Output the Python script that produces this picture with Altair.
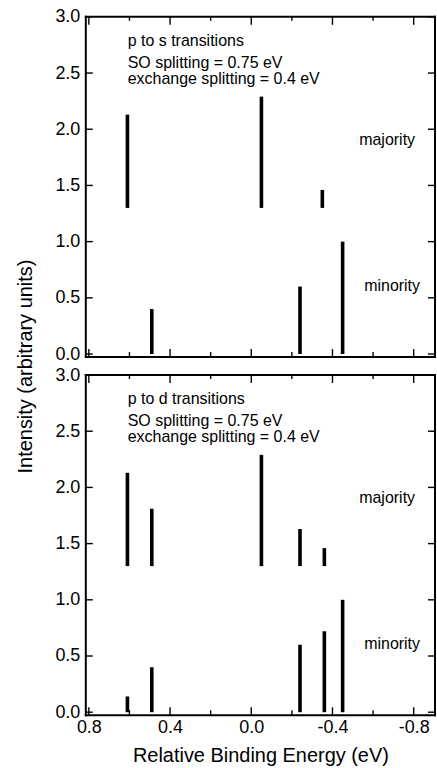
import altair as alt
import pandas as pd

# ---- data ----
ps_maj_energy = [0.61, -0.05, -0.35]
ps_maj_int = [2.13, 2.29, 1.46]
ps_min_energy = [0.49, -0.24, -0.45]
ps_min_int = [0.40, 0.60, 1.00]

pd_maj_energy = [0.61, 0.49, -0.05, -0.24, -0.36]
pd_maj_int = [2.13, 1.81, 2.29, 1.63, 1.46]
pd_min_energy = [0.61, 0.49, -0.24, -0.36, -0.45]
pd_min_int = [0.14, 0.40, 0.60, 0.72, 1.00]

majority_base = 1.3
minority_base = 0.0

y_ticks = [0.0, 0.5, 1.0, 1.5, 2.0, 2.5, 3.0]
x_major = [0.8, 0.4, 0.0, -0.4, -0.8]
x_minor = [0.6, 0.2, -0.2, -0.6]

panel_titles = ["p to s transitions", "p to d transitions"]
info_lines = ["SO splitting = 0.75 eV", "exchange splitting = 0.4 eV"]
spin_labels = ["majority", "minority"]
x_title = "Relative Binding Energy (eV)"
y_title = "Intensity (arbitrary units)"

# ---- layout ----
W, H = 350, 341
FONT = "Liberation Sans"
xs = alt.Scale(domain=[-0.905, 0.815], reverse=True, nice=False, zero=False)
ys = alt.Scale(domain=[-0.027, 3.0], nice=False, zero=False)
LABEL_EXPR = "datum.value < 0 ? '-' + format(-datum.value, '.1f') : format(datum.value, '.1f')"


def panel(maj_e, maj_i, min_e, min_i, title, bottom, top):
    sticks = pd.DataFrame({
        "energy": maj_e + min_e,
        "top": maj_i + min_i,
        "base": [majority_base] * len(maj_e) + [minority_base] * len(min_e),
    })
    if bottom:
        xaxis = alt.Axis(values=x_major, labelExpr=LABEL_EXPR, title=x_title,
                         ticks=False, tickSize=0, domain=False, grid=False,
                         labelFontSize=18, titleFontSize=20, labelPadding=3,
                         titlePadding=9, titleFontWeight="normal",
                         labelFont=FONT, titleFont=FONT,
                         labelColor="black", titleColor="black")
    else:
        xaxis = None
    yaxis_kw = dict(values=y_ticks, labelExpr=LABEL_EXPR, ticks=False, tickSize=0,
                    domain=False, grid=False, labelFontSize=18, labelPadding=6,
                    labelFont=FONT, labelColor="black")
    if top:
        yaxis = alt.Axis(title=y_title, titleFontSize=20, titleFont=FONT,
                         titleFontWeight="normal", titleColor="black",
                         titleX=-50, titleY=H + 9, **yaxis_kw)
    else:
        yaxis = alt.Axis(title=None, **yaxis_kw)

    def X(f):
        return alt.X(f, scale=xs, axis=xaxis)

    def Y(f):
        return alt.Y(f, scale=ys, axis=yaxis)

    bars = alt.Chart(sticks).mark_rule(color="black", strokeWidth=3.6, strokeCap="butt").encode(
        x=X("energy:Q"), y=Y("base:Q"), y2="top:Q",
    )

    ydf = pd.DataFrame({"v": y_ticks})
    xmaj = pd.DataFrame({"v": x_major})
    xmin = pd.DataFrame({"v": x_minor})
    tk = dict(color="black", strokeWidth=1.4)
    yl = alt.Chart(ydf).mark_rule(**tk).encode(y=Y("v:Q"), x=alt.value(0), x2=alt.value(7))
    yr = alt.Chart(ydf).mark_rule(**tk).encode(y=Y("v:Q"), x=alt.value(W - 7), x2=alt.value(W))
    xt_maj = alt.Chart(xmaj).mark_rule(**tk).encode(x=X("v:Q"), y=alt.value(0), y2=alt.value(8))
    xt_min = alt.Chart(xmin).mark_rule(**tk).encode(x=X("v:Q"), y=alt.value(0), y2=alt.value(4))
    xb_maj = alt.Chart(xmaj).mark_rule(**tk).encode(x=X("v:Q"), y=alt.value(H - 8), y2=alt.value(H))
    xb_min = alt.Chart(xmin).mark_rule(**tk).encode(x=X("v:Q"), y=alt.value(H - 5), y2=alt.value(H))

    # frame around the plot area
    one = pd.DataFrame({"k": [0]})
    fr = dict(color="black", strokeWidth=2, strokeCap="square")
    f_top = alt.Chart(one).mark_rule(**fr).encode(x=alt.value(0), x2=alt.value(W), y=alt.value(0))
    f_bot = alt.Chart(one).mark_rule(**fr).encode(x=alt.value(0), x2=alt.value(W), y=alt.value(H))
    f_left = alt.Chart(one).mark_rule(**fr).encode(y=alt.value(0), y2=alt.value(H), x=alt.value(0))
    f_right = alt.Chart(one).mark_rule(**fr).encode(y=alt.value(0), y2=alt.value(H), x=alt.value(W))

    txt = dict(font=FONT, fontSize=16, color="black", baseline="alphabetic")
    t_title = alt.Chart(pd.DataFrame({"t": [title]})).mark_text(align="left", **txt).encode(
        x=alt.value(42), y=alt.value(29), text="t:N")
    t_so = alt.Chart(pd.DataFrame({"t": [info_lines[0]]})).mark_text(align="left", **txt).encode(
        x=alt.value(42), y=alt.value(51), text="t:N")
    t_ex = alt.Chart(pd.DataFrame({"t": [info_lines[1]]})).mark_text(align="left", **txt).encode(
        x=alt.value(42), y=alt.value(67), text="t:N")
    t_maj = alt.Chart(pd.DataFrame({"t": [spin_labels[0]]})).mark_text(align="center", **txt).encode(
        x=alt.value(302), y=alt.value(128), text="t:N")
    t_min = alt.Chart(pd.DataFrame({"t": [spin_labels[1]]})).mark_text(align="center", **txt).encode(
        x=alt.value(307), y=alt.value(275), text="t:N")

    return alt.layer(bars, yl, yr, xt_maj, xt_min, xb_maj, xb_min,
                     f_top, f_bot, f_left, f_right,
                     t_title, t_so, t_ex, t_maj, t_min).properties(width=W, height=H)


top_panel = panel(ps_maj_energy, ps_maj_int, ps_min_energy, ps_min_int,
                  panel_titles[0], bottom=False, top=True)
bottom_panel = panel(pd_maj_energy, pd_maj_int, pd_min_energy, pd_min_int,
                     panel_titles[1], bottom=True, top=False)

chart = alt.vconcat(top_panel, bottom_panel, spacing=18, bounds="flush").properties(
    padding={"left": 16, "top": 7, "right": 0, "bottom": 0}
).configure(background="white").configure_view(strokeWidth=0)

chart.save("out.html", embed_options={"renderer": "svg", "actions": False})
